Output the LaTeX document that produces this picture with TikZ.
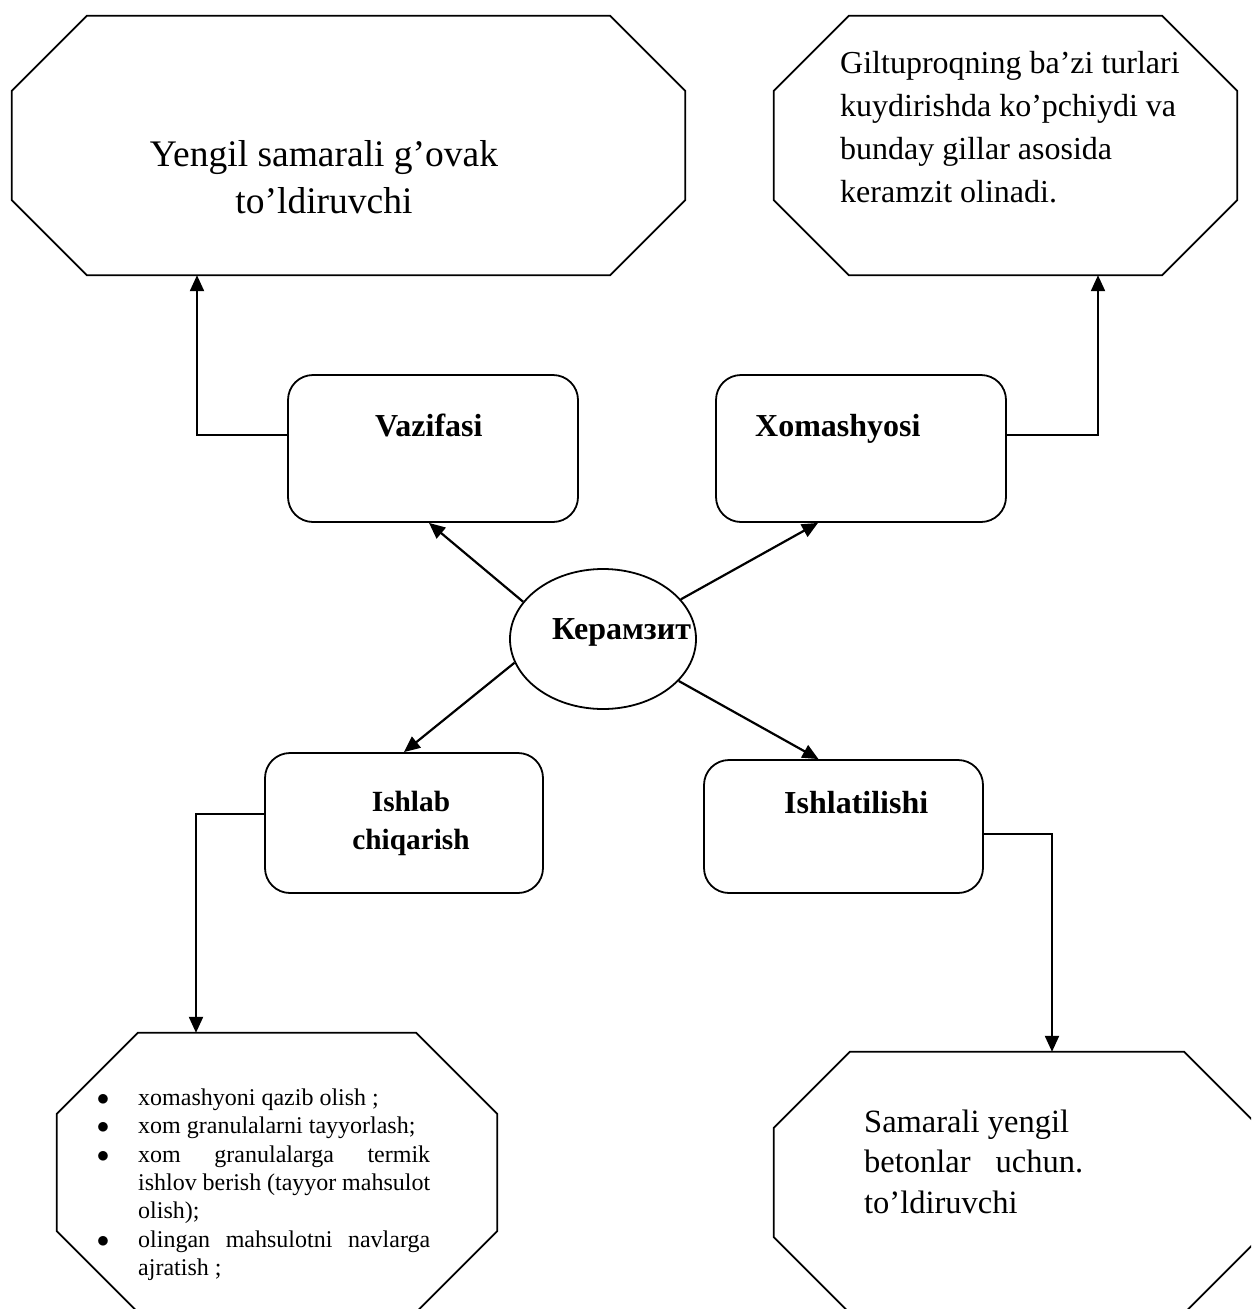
\documentclass[tikz,border=0pt]{standalone}
\usepackage{fontspec}
\setmainfont{Liberation Serif}
\usepackage{tikz}
\usetikzlibrary{arrows.meta,positioning,shapes.geometric,calc}
\setlength{\leftmargini}{38pt}
\setlength{\labelsep}{29pt}
\renewcommand{\labelitemi}{$\bullet$}
\tikzset{
kmline/.style={line width=1.8pt},
kmbox/.style={rectangle,rounded corners=25pt,draw,kmline,inner sep=0pt},
kmoct/.style={rectangle,inner sep=0pt},
kmcore/.style={ellipse,draw,kmline,inner sep=0pt,minimum width=186pt,minimum height=140pt},
kmhead/.style={font=\fontsize{32}{38}\selectfont\bfseries,inner sep=0pt},
kmbody/.style={inner sep=0pt},
kmarr/.style={-{Triangle[length=16pt,width=14pt]},line width=2.2pt}
}
% octagon outline round a plain node: name, cut
\newcommand{\kmoctframe}[2]{%
  \draw[kmline] ($(#1.north west)+(#2,0)$) -- ($(#1.north east)+(-#2,0)$)
    -- ($(#1.north east)+(0,#2)$) -- ($(#1.south east)+(0,-#2)$)
    -- ($(#1.south east)+(-#2,0)$) -- ($(#1.south west)+(#2,0)$)
    -- ($(#1.south west)+(0,-#2)$) -- ($(#1.north west)+(0,#2)$) -- cycle;}

\begin{document}
\begin{tikzpicture}[
x=1pt,
y=-1pt
]
\path[use as bounding box] (0,0) rectangle (1251,1309);
\clip (0,0) rectangle (1251,1309);
% outer octagons
\node[kmoct,minimum width=673pt,minimum height=259pt] (purpose) at (348.5,145.5) {};
\node[kmoct,minimum width=463pt,minimum height=259pt] (raw) at (1005.5,145.5) {};
\node[kmoct,minimum width=440pt,minimum height=279pt] (steps) at (277,1172.5) {};
\node[kmoct,minimum width=486pt,minimum height=261pt] (use) at (1017,1182.5) {};
\kmoctframe{purpose}{75}
\kmoctframe{raw}{75}
\kmoctframe{steps}{81}
\kmoctframe{use}{76}
% inner boxes
\node[kmbox,minimum width=290pt,minimum height=147pt] (task) at (433,448.5) {};
\node[kmbox,minimum width=290pt,minimum height=147pt] (source) at (861,448.5) {};
\node[kmbox,minimum width=278pt,minimum height=140pt] (making) at (404,823) {};
\node[kmbox,minimum width=279pt,minimum height=133pt] (usage) at (843.5,826.5) {};
\node[kmcore] (core) at (603,639) {};
% headings (base = last line)
\node[kmhead,anchor=base west] (tasktext) at (375,436) {Vazifasi};
\node[kmhead,anchor=base west] (sourcetext) at (755,436) {Xomashyosi};
\node[kmhead,anchor=base west] (usagetext) at (784,813) {Ishlatilishi};
\node[kmhead,font=\fontsize{29.3}{38}\selectfont\bfseries,align=center,anchor=base]
  (makingtext) at (411,849) {Ishlab\\chiqarish};
\node[kmhead,anchor=base west] (coretext) at (552,639) {Керамзит};
% texts in octagons
\node[kmbody,font=\fontsize{37.5}{47}\selectfont,align=center,anchor=base]
  (purposetext) at (324,213) {Yengil samarali g’ovak\\to’ldiruvchi};
\node[kmbody,font=\fontsize{32}{43}\selectfont,align=left,anchor=base west]
  (rawtext) at (840,202) {Giltuproqning ba’zi turlari\\kuydirishda ko’pchiydi va\\bunday gillar asosida\\keramzit olinadi.};
\node[kmbody,font=\fontsize{32.5}{40.5}\selectfont,align=left,anchor=base west]
  (usetext) at (864,1213) {Samarali yengil\\betonlar\hspace{25pt}uchun.\\to’ldiruvchi};
\node[kmbody,font=\fontsize{24}{28.3}\selectfont,text width=330pt,align=justify,anchor=north west]
  (stepstext) at (100,1069) {%
  \begin{itemize}\setlength{\itemsep}{0pt}\setlength{\parskip}{0pt}
  \item xomashyoni qazib olish ;
  \item xom granulalarni tayyorlash;
  \item xom granulalarga termik ishlov berish (tayyor mahsulot olish);
  \item olingan mahsulotni navlarga ajratish ;
  \end{itemize}};
% connectors
\draw[kmarr] (core.155) -- ([xshift=-4pt]task.south);
\draw[kmarr] (core.27) -- ([xshift=-43pt]source.south);
\draw[kmarr] (core.195) -- (making.north);
\draw[kmarr] (core.331) -- ([xshift=-25pt]usage.north);
\draw[kmarr] ([yshift=13.5pt]task.west) -| ([xshift=-151.5pt]purpose.south);
\draw[kmarr] ([yshift=13.5pt]source.east) -| ([xshift=92.5pt]raw.south);
\draw[kmarr] ([yshift=9pt]making.west) -| ([xshift=-81pt]steps.north);
\draw[kmarr] ([yshift=-7.5pt]usage.east) -| ([xshift=35pt]use.north);
\end{tikzpicture}
\end{document}
